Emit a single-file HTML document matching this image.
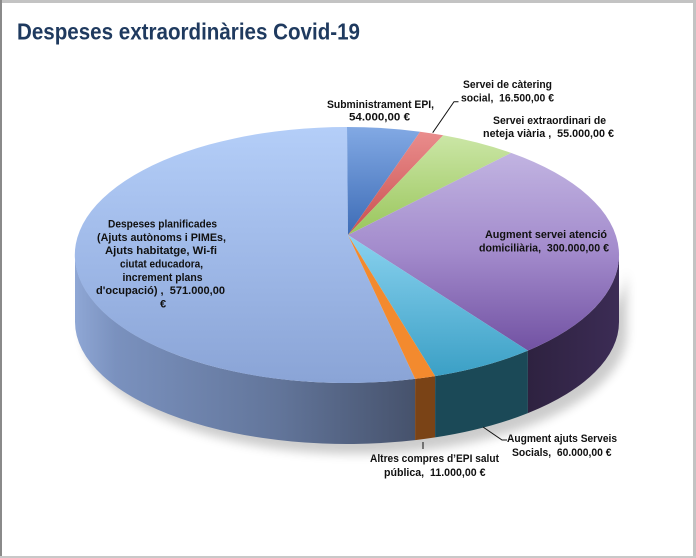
<!DOCTYPE html>
<html>
<head>
<meta charset="utf-8">
<style>
  html,body{margin:0;padding:0;background:#fff;}
  body{width:696px;height:558px;overflow:hidden;}
  svg{display:block;}
  text{font-family:"Liberation Sans", Arial, sans-serif;white-space:pre;}
  .lb{font-weight:bold;font-size:11px;fill:#111;}
</style>
</head>
<body>
<svg width="696" height="558" viewBox="0 0 696 558" xmlns="http://www.w3.org/2000/svg">
  <defs>
    <linearGradient id="gDesTop" x1="0" y1="127" x2="0" y2="383" gradientUnits="userSpaceOnUse">
      <stop offset="0" stop-color="#b4cef8"/>
      <stop offset="0.5" stop-color="#9fb9e8"/>
      <stop offset="1" stop-color="#8aa4d6"/>
    </linearGradient>
    <linearGradient id="gDesSide" x1="75" y1="0" x2="415" y2="0" gradientUnits="userSpaceOnUse">
      <stop offset="0" stop-color="#8fa7d5"/>
      <stop offset="0.12" stop-color="#7a91be"/>
      <stop offset="0.6" stop-color="#62759a"/>
      <stop offset="1" stop-color="#46526c"/>
    </linearGradient>
    <linearGradient id="gSub" x1="0" y1="127" x2="0" y2="235" gradientUnits="userSpaceOnUse">
      <stop offset="0" stop-color="#82a9e4"/>
      <stop offset="1" stop-color="#3d6cb6"/>
    </linearGradient>
    <linearGradient id="gCat" x1="0" y1="131" x2="0" y2="235" gradientUnits="userSpaceOnUse">
      <stop offset="0" stop-color="#ea8d8d"/>
      <stop offset="1" stop-color="#c9504f"/>
    </linearGradient>
    <linearGradient id="gNet" x1="0" y1="135" x2="0" y2="235" gradientUnits="userSpaceOnUse">
      <stop offset="0" stop-color="#cbe6a6"/>
      <stop offset="1" stop-color="#9ac65c"/>
    </linearGradient>
    <linearGradient id="gAug" x1="0" y1="150" x2="0" y2="352" gradientUnits="userSpaceOnUse">
      <stop offset="0" stop-color="#c2b5e2"/>
      <stop offset="0.5" stop-color="#a38bcc"/>
      <stop offset="1" stop-color="#7151a2"/>
    </linearGradient>
    <linearGradient id="gAugSide" x1="528" y1="0" x2="619" y2="0" gradientUnits="userSpaceOnUse">
      <stop offset="0" stop-color="#2e2240"/>
      <stop offset="1" stop-color="#3c2c55"/>
    </linearGradient>
    <linearGradient id="gSS" x1="0" y1="235" x2="0" y2="378" gradientUnits="userSpaceOnUse">
      <stop offset="0" stop-color="#8ad2ef"/>
      <stop offset="1" stop-color="#3a9fc5"/>
    </linearGradient>
    <filter id="blur" x="-20%" y="-20%" width="140%" height="140%">
      <feGaussianBlur stdDeviation="5"/>
    </filter>
  </defs>

  <!-- frame -->
  <rect x="0" y="0" width="696" height="558" fill="#fff"/>
  <rect x="0" y="0" width="696" height="3" fill="#c3c3c3"/>
  <rect x="0" y="0" width="2" height="558" fill="#8a8a8a"/>
  <rect x="693" y="0" width="3" height="558" fill="#c3c3c3"/>
  <rect x="0" y="556" width="696" height="2" fill="#c8c8c8"/>

  <!-- title -->
  <text x="17" y="39.5" font-size="23" font-weight="bold" fill="#1f3a5f" textLength="343" lengthAdjust="spacingAndGlyphs">Despeses extraordinàries Covid-19</text>

  <!-- shadow -->
  <path d="M 80 262 A 272 128 0 0 0 624 262 L 624 328 A 272 122 0 0 1 80 328 Z" fill="#000" opacity="0.2" filter="url(#blur)" transform="translate(3,4)"/>

  <!-- side faces -->
  <path d="M 415.1 378.9 A 272 128 0 0 1 75 255 L 75 322 A 272 122 0 0 0 415.1 440.1 Z" fill="url(#gDesSide)"/>
  <path d="M 435.1 376.1 A 272 128 0 0 1 415.1 378.9 L 415.1 440.1 A 272 122 0 0 0 435.1 437.4 Z" fill="#7a4316"/>
  <path d="M 527.9 350.6 A 272 128 0 0 1 435.1 376.1 L 435.1 437.4 A 272 122 0 0 0 527.9 413.1 Z" fill="#1b4957"/>
  <path d="M 619 255 A 272 128 0 0 1 527.9 350.6 L 527.9 413.1 A 272 122 0 0 0 619 322 Z" fill="url(#gAugSide)"/>

  <!-- top faces -->
  <path d="M 348 235 L 415.1 378.9 A 272 128 0 1 1 347 127 Z" fill="url(#gDesTop)"/>
  <path d="M 348 235 L 347 127 A 272 128 0 0 1 420.1 131.7 Z" fill="url(#gSub)"/>
  <path d="M 348 235 L 420.1 131.7 A 272 128 0 0 1 443.2 135.3 Z" fill="url(#gCat)"/>
  <path d="M 348 235 L 443.2 135.3 A 272 128 0 0 1 511.1 152.9 Z" fill="url(#gNet)"/>
  <path d="M 348 235 L 511.1 152.9 A 272 128 0 0 1 527.9 350.6 Z" fill="url(#gAug)"/>
  <path d="M 348 235 L 527.9 350.6 A 272 128 0 0 1 435.1 376.1 Z" fill="url(#gSS)"/>
  <path d="M 348 235 L 435.1 376.1 A 272 128 0 0 1 415.1 378.9 Z" fill="#f38a2e"/>

  <!-- leader lines -->
  <polyline points="432.7,132.7 454,101.7 458.5,101.7" fill="none" stroke="#111" stroke-width="1"/>
  <polyline points="483,427 502,440 507,440" fill="none" stroke="#111" stroke-width="1"/>
  <line x1="423" y1="442" x2="423" y2="449" stroke="#111" stroke-width="1"/>

  <!-- labels -->
  <text class="lb" x="327" y="108" textLength="107" lengthAdjust="spacingAndGlyphs">Subministrament EPI,</text>
  <text class="lb" x="349" y="120.5" textLength="61" lengthAdjust="spacingAndGlyphs">54.000,00 €</text>

  <text class="lb" x="463" y="88" textLength="89" lengthAdjust="spacingAndGlyphs">Servei de càtering</text>
  <text class="lb" x="461" y="101.5" textLength="93" lengthAdjust="spacingAndGlyphs">social,  16.500,00 €</text>

  <text class="lb" x="493" y="124" textLength="113" lengthAdjust="spacingAndGlyphs">Servei extraordinari de</text>
  <text class="lb" x="483" y="137" textLength="131" lengthAdjust="spacingAndGlyphs">neteja viària ,  55.000,00 €</text>

  <text class="lb" x="485" y="238" textLength="122" lengthAdjust="spacingAndGlyphs">Augment servei atenció</text>
  <text class="lb" x="479" y="251.5" textLength="130" lengthAdjust="spacingAndGlyphs">domiciliària,  300.000,00 €</text>

  <text class="lb" x="108" y="227.5" textLength="109" lengthAdjust="spacingAndGlyphs">Despeses planificades</text>
  <text class="lb" x="97" y="241" textLength="129" lengthAdjust="spacingAndGlyphs">(Ajuts autònoms i PIMEs,</text>
  <text class="lb" x="105" y="254" textLength="112" lengthAdjust="spacingAndGlyphs">Ajuts habitatge, Wi-fi</text>
  <text class="lb" x="120" y="267.5" textLength="83" lengthAdjust="spacingAndGlyphs">ciutat educadora,</text>
  <text class="lb" x="122.5" y="281" textLength="80" lengthAdjust="spacingAndGlyphs">increment plans</text>
  <text class="lb" x="96" y="294" textLength="129" lengthAdjust="spacingAndGlyphs">d'ocupació) ,  571.000,00</text>
  <text class="lb" x="160" y="307.5">€</text>

  <text class="lb" x="507" y="442" textLength="110" lengthAdjust="spacingAndGlyphs">Augment ajuts Serveis</text>
  <text class="lb" x="512" y="456" textLength="99.5" lengthAdjust="spacingAndGlyphs">Socials,  60.000,00 €</text>

  <text class="lb" x="370" y="462" textLength="129" lengthAdjust="spacingAndGlyphs">Altres compres d’EPI salut</text>
  <text class="lb" x="384" y="476" textLength="101.5" lengthAdjust="spacingAndGlyphs">pública,  11.000,00 €</text>
</svg>
</body>
</html>
